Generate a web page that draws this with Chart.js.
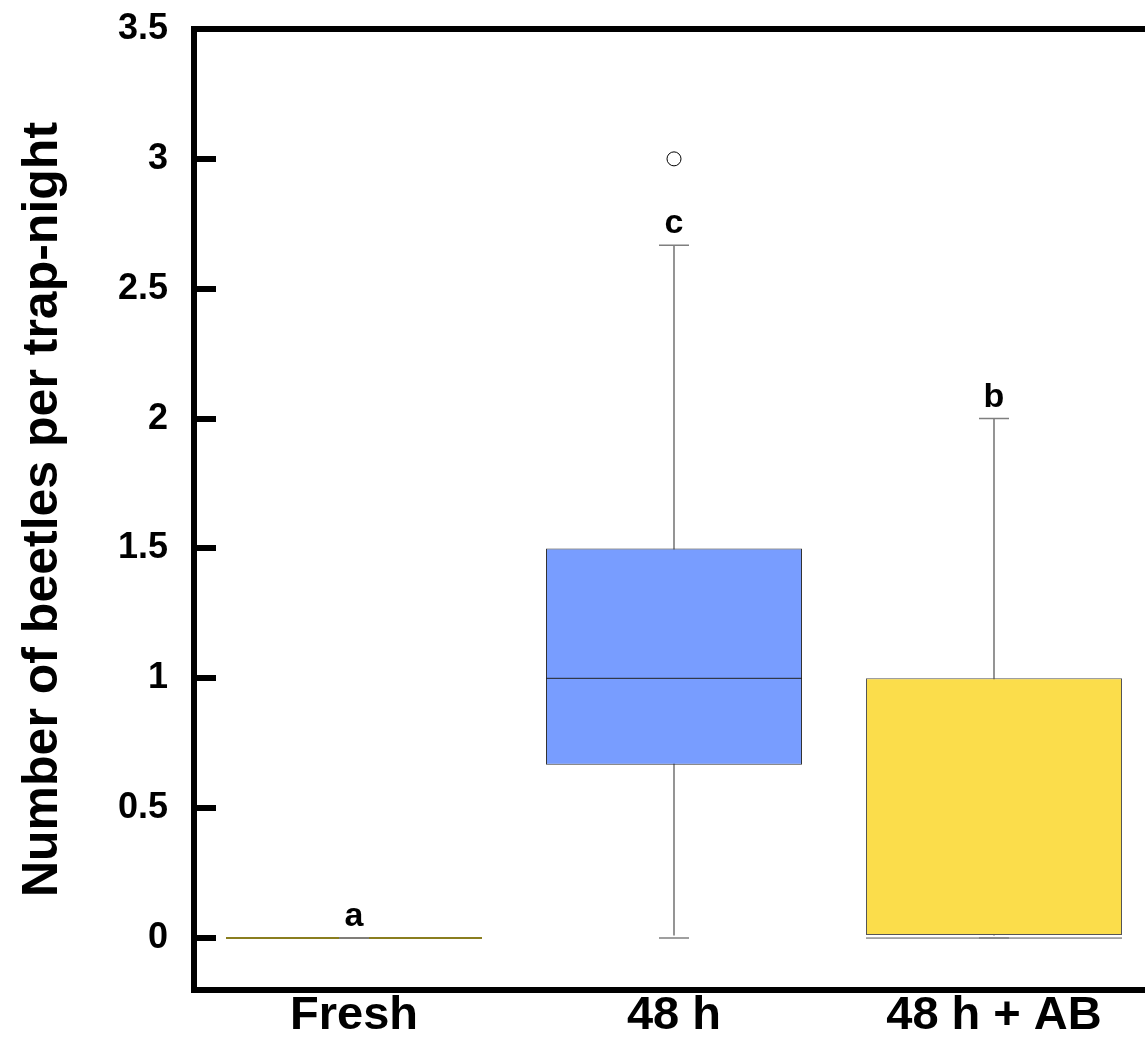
<!DOCTYPE html>
<html>
<head>
<meta charset="utf-8">
<script src="https://cdn.jsdelivr.net/npm/chart.js@4.4.1/dist/chart.umd.min.js"></script>
<style>
html, body { margin: 0; padding: 0; overflow: hidden; background: #fff; }
#wrap { width: 1145px; height: 1045px; overflow: hidden; }
canvas { display: block; }
</style>
</head>
<body>
<div id="wrap"><canvas id="c" width="1170" height="1045"></canvas></div>
<script>
// ---- data ----
const categories = ['Fresh', '48 h', '48 h + AB'];
const whiskerLow = [0, 0, 0];
const quartile1 = [0, 0.667, 0];
const medians = [0, 1, 0];
const quartile3 = [0, 1.5, 1];
const whiskerHigh = [0, 2.667, 2];
const outliers = [null, 3, null];
const groupLetters = ['a', 'c', 'b'];
const yTickValues = [0, 0.5, 1, 1.5, 2, 2.5, 3, 3.5];
const yTickLabels = ['0', '0.5', '1', '1.5', '2', '2.5', '3', '3.5'];
const yTitle = 'Number of beetles per trap-night';

// ---- styles ----
const FONT = "'Liberation Sans', Arial, Helvetica, sans-serif";
const boxFill = ['#FBDD4B', '#789DFF', '#FBDD4B'];
const boxEdge = ['#8a7f20', '#333333', '#555555'];
const medianEdge = ['#8a7f20', '#222222', '#555555'];
const whiskerColor = '#7f7f7f';
const BOX_PCT = 0.8;

function boxHalfWidth(chart) {
  const xs = chart.scales.x;
  return xs.width / categories.length * BOX_PCT / 2;
}

const letterPlugin = {
  id: 'letters',
  afterDatasetsDraw(chart) {
    const { ctx, scales } = chart;
    ctx.save();
    ctx.fillStyle = '#000';
    ctx.font = 'bold 34px ' + FONT;
    ctx.textAlign = 'center';
    ctx.textBaseline = 'alphabetic';
    groupLetters.forEach((t, i) => {
      const x = scales.x.getPixelForValue(i);
      const y = scales.y.getPixelForValue(whiskerHigh[i]) - 12;
      ctx.fillText(t, x, y);
    });
    ctx.restore();
  }
};

new Chart(document.getElementById('c'), {
  type: 'bar',
  data: {
    labels: categories,
    datasets: [
      {
        type: 'bar',
        data: categories.map((_, i) => [whiskerLow[i], whiskerHigh[i]]),
        backgroundColor: whiskerColor,
        barThickness: 1,
        grouped: false,
        order: 6
      },
      {
        type: 'bar',
        data: categories.map((_, i) => [quartile1[i], quartile3[i]]),
        backgroundColor: boxFill,
        borderColor: boxEdge,
        borderWidth: 1,
        borderSkipped: false,
        barPercentage: BOX_PCT,
        categoryPercentage: 1,
        grouped: false,
        minBarLength: 2,
        order: 5
      },
      {
        type: 'line',
        data: medians,
        showLine: false,
        pointStyle: 'line',
        pointRadius: ctx => boxHalfWidth(ctx.chart),
        pointHoverRadius: ctx => boxHalfWidth(ctx.chart),
        pointBorderColor: medianEdge,
        pointBorderWidth: 1,
        order: 4
      },
      {
        type: 'line',
        data: whiskerHigh,
        showLine: false,
        pointStyle: 'line',
        pointRadius: 15,
        pointHoverRadius: 15,
        pointBorderColor: whiskerColor,
        pointBorderWidth: 1.5,
        order: 3
      },
      {
        type: 'line',
        data: whiskerLow,
        showLine: false,
        pointStyle: 'line',
        pointRadius: 15,
        pointHoverRadius: 15,
        pointBorderColor: whiskerColor,
        pointBorderWidth: 1.5,
        order: 2
      },
      {
        type: 'line',
        data: outliers,
        showLine: false,
        pointStyle: 'circle',
        pointRadius: 7,
        pointHoverRadius: 7,
        pointBackgroundColor: '#ffffff',
        pointBorderColor: '#000000',
        pointBorderWidth: 1,
        order: 1
      }
    ]
  },
  options: {
    responsive: false,
    animation: false,
    devicePixelRatio: 1,
    layout: { autoPadding: false, padding: { left: 0, right: 16, top: 0, bottom: 0 } },
    plugins: { legend: { display: false }, tooltip: { enabled: false } },
    scales: {
      x: {
        type: 'category',
        position: 'bottom',
        offset: true,
        afterFit: s => { s.height = 55; s.paddingLeft = 0; s.paddingRight = 0; },
        grid: { display: true, drawOnChartArea: false, drawTicks: false, color: 'rgba(0,0,0,0)', lineWidth: 6 },
        border: { display: true, color: '#000', width: 6 },
        ticks: { color: '#000', padding: 3, maxRotation: 0, font: { family: FONT, size: 47, weight: 'bold', lineHeight: 1 } }
      },
      x2: {
        type: 'category',
        position: 'top',
        offset: true,
        labels: categories,
        afterFit: s => { s.height = 29; s.paddingLeft = 0; s.paddingRight = 0; },
        grid: { display: true, drawOnChartArea: false, drawTicks: false, color: 'rgba(0,0,0,0)', lineWidth: 6 },
        border: { display: true, color: '#000', width: 6 },
        ticks: { display: false }
      },
      y: {
        type: 'linear',
        min: -0.2,
        max: 3.5,
        afterBuildTicks: s => { s.ticks = yTickValues.map(v => ({ value: v })); },
        afterFit: s => { s.width = 194; s.paddingTop = 0; s.paddingBottom = 0; },
        grid: { display: true, drawOnChartArea: false, drawTicks: true, tickLength: -22, tickWidth: 6, tickColor: '#000', color: '#000', lineWidth: 6 },
        border: { display: true, color: '#000', width: 6 },
        ticks: {
          color: '#000',
          padding: 48,
          font: { family: FONT, size: 36, weight: 'bold', lineHeight: 1 },
          callback: (v, i) => yTickLabels[i]
        },
        title: {
          display: true,
          text: yTitle,
          color: '#000',
          font: { family: FONT, size: 50, weight: 'bold', lineHeight: 1 },
          padding: { top: 18, bottom: 0 }
        }
      }
    }
  },
  plugins: [letterPlugin]
});
</script>
</body>
</html>
